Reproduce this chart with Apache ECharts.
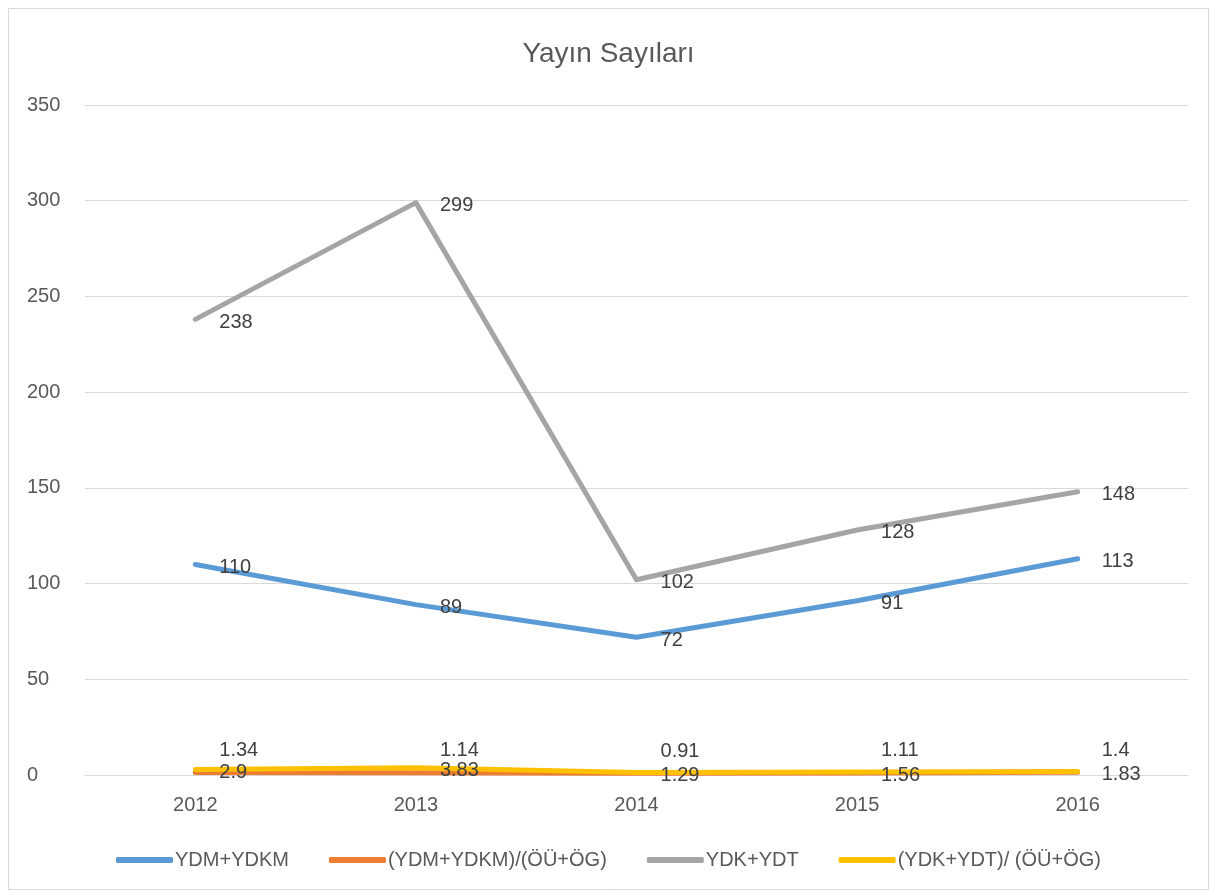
<!DOCTYPE html>
<html><head><meta charset="utf-8">
<script src="https://cdn.jsdelivr.net/npm/echarts@6/dist/echarts.min.js"></script>
<style>html,body{margin:0;padding:0;background:#fff}#c{width:1217px;height:895px}</style>
</head><body><div id="c"></div>
<script>
const years = ['2012','2013','2014','2015','2016'];
const ydmYdkm = [110, 89, 72, 91, 113];
const ydmRatio = [1.34, 1.14, 0.91, 1.11, 1.4];
const ydkYdt = [238, 299, 102, 128, 148];
const ydkRatio = [2.9, 3.83, 1.29, 1.56, 1.83];
const names = ['YDM+YDKM','(YDM+YDKM)/(ÖÜ+ÖG)','YDK+YDT','(YDK+YDT)/ (ÖÜ+ÖG)'];
const colors = ['#5B9BD5','#ED7D31','#A5A5A5','#FFC000'];
const font = '"Liberation Sans", Arial, sans-serif';
const chart = echarts.init(document.getElementById('c'));
function s(name, data, color, z, label){
  return {name, type:'line', data, symbol:'circle', symbolSize:0.01, showSymbol:true, z,
    lineStyle:{width:5, color, cap:'round', join:'round'}, itemStyle:{color},
    label:Object.assign({show:true, position:'right', distance:24, offset:[0,3], color:'#404040', fontSize:20, fontFamily:font}, label||{})};
}
chart.setOption({
  animation:false,
  title:{text:'Yayın Sayıları', left:'center', top:35, textStyle:{fontSize:28, fontWeight:'normal', color:'#595959', fontFamily:font}},
  graphic:[{type:'rect', shape:{x:8.5,y:8.5,width:1200,height:881}, style:{fill:'none', stroke:'#d9d9d9', lineWidth:1}, silent:true}],
  grid:{left:85, right:29, top:105, bottom:120},
  legend:{top:845, left:'center', itemWidth:57, itemHeight:6, itemGap:40, icon:'roundRect',
    textStyle:{fontSize:20, color:'#595959', fontFamily:font, padding:[0,0,0,-3]}, data:names},
  xAxis:{type:'category', data:years, boundaryGap:true,
    axisLine:{lineStyle:{color:'#d9d9d9', width:1}}, axisTick:{show:false},
    axisLabel:{fontSize:20, color:'#595959', margin:20, fontFamily:font}},
  yAxis:{type:'value', min:0, max:350, interval:50,
    axisLine:{show:false}, axisTick:{show:false},
    splitLine:{lineStyle:{color:'#d9d9d9', width:1}},
    axisLabel:{fontSize:20, color:'#595959', margin:58, align:'left', fontFamily:font}},
  series:[
    s(names[0], ydmYdkm, colors[0], 3),
    s(names[1], ydmRatio, colors[1], 2, {offset:[0,-22]}),
    s(names[2], ydkYdt, colors[2], 3),
    s(names[3], ydkRatio, colors[3], 4)
  ]
});
</script></body></html>
